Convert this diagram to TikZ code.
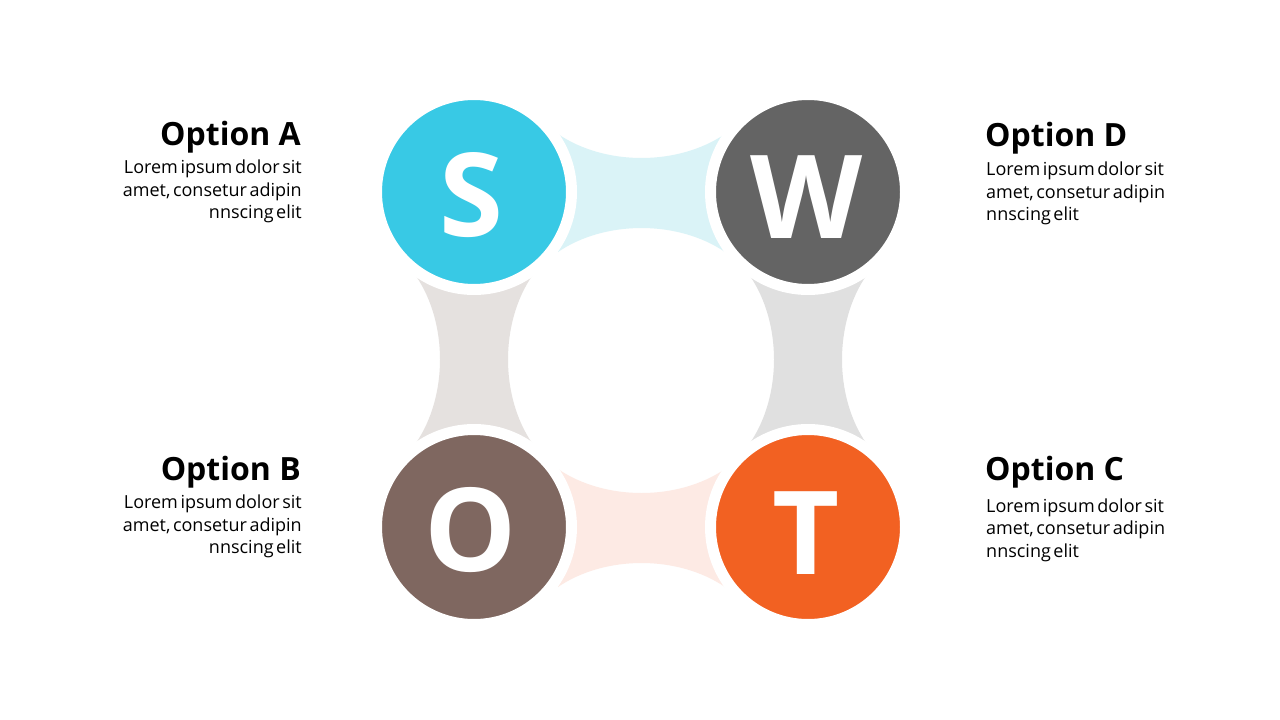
\documentclass[tikz,border=0pt]{standalone}
\usepackage{fontspec}
\setmainfont{Open Sans}
\newfontfamily\bodyfont[WordSpace=0.55]{Open Sans}
\definecolor{cS}{HTML}{38C9E5}
\definecolor{cW}{HTML}{646464}
\definecolor{cO}{HTML}{7F6760}
\definecolor{cT}{HTML}{F26122}
\definecolor{kSW}{HTML}{DAF3F7}
\definecolor{kSO}{HTML}{E5E1DF}
\definecolor{kWT}{HTML}{E0E0E0}
\definecolor{kOT}{HTML}{FDEAE4}
\tikzset{
  swotcircle/.style={circle, minimum size=195pt, inner sep=0pt, draw=white, line width=11pt},
  swotletter/.style={anchor=base, inner sep=0pt, text=white, font=\fontsize{116}{116}\selectfont\bfseries},
  titleR/.style={anchor=base east, inner sep=0pt, font=\fontsize{32}{32}\selectfont\bfseries},
  titleL/.style={anchor=base west, inner sep=0pt, font=\fontsize{32}{32}\selectfont\bfseries},
  bodyR/.style={anchor=base east, inner sep=0pt, font=\fontsize{18}{22}\bodyfont},
  bodyL/.style={anchor=base west, inner sep=0pt, font=\fontsize{18}{22}\bodyfont},
}
\begin{document}
\begin{tikzpicture}[x=1pt,y=-1pt]
\useasboundingbox[fill=white] (0,0) rectangle (1280,720);
% bands
\fill[kSW] (558,134) .. controls (605,166) and (678,166) .. (725,134) -- (725,252) .. controls (678,220) and (605,220) .. (558,252) -- cycle;
\fill[kOT] (558,469) .. controls (605,501) and (678,501) .. (725,469) -- (725,587) .. controls (678,555) and (605,555) .. (558,587) -- cycle;
\fill[kSO] (416,276) .. controls (448,323) and (448,396) .. (416,443) -- (532,443) .. controls (500,396) and (500,323) .. (532,276) -- cycle;
\fill[kWT] (750,276) .. controls (782,323) and (782,396) .. (750,443) -- (866,443) .. controls (834,396) and (834,323) .. (866,276) -- cycle;
% circles
\node[swotcircle, fill=cS] (S) at (474,192) {};
\node[swotcircle, fill=cW] (W) at (808,192) {};
\node[swotcircle, fill=cO] (O) at (474,527) {};
\node[swotcircle, fill=cT] (T) at (808,527) {};
\node[swotletter] (Sl) at (471,236) {S};
\node[swotletter] (Wl) at (807,238) {W};
\node[swotletter] (Ol) at (471,571) {O};
\node[swotletter] (Tl) at (806,574) {T};
% texts left
\node[titleR] (tA) at (301,145) {Option A};
\node[bodyR] (a1) at (302,173) {Lorem ipsum dolor sit};
\node[bodyR] (a2) at (302,196) {amet, consetur adipin};
\node[bodyR] (a3) at (302,218) {nnscing elit};
\node[titleR] (tB) at (301,480) {Option B};
\node[bodyR] (b1) at (302,508) {Lorem ipsum dolor sit};
\node[bodyR] (b2) at (302,531) {amet, consetur adipin};
\node[bodyR] (b3) at (302,553) {nnscing elit};
% texts right
\node[titleL] (tD) at (985,146) {Option D};
\node[bodyL] (d1) at (986,175) {Lorem ipsum dolor sit};
\node[bodyL] (d2) at (986,198) {amet, consetur adipin};
\node[bodyL] (d3) at (986,220) {nnscing elit};
\node[titleL] (tC) at (985,480) {Option C};
\node[bodyL] (c1) at (986,512) {Lorem ipsum dolor sit};
\node[bodyL] (c2) at (986,534) {amet, consetur adipin};
\node[bodyL] (c3) at (986,557) {nnscing elit};
\end{tikzpicture}
\end{document}
